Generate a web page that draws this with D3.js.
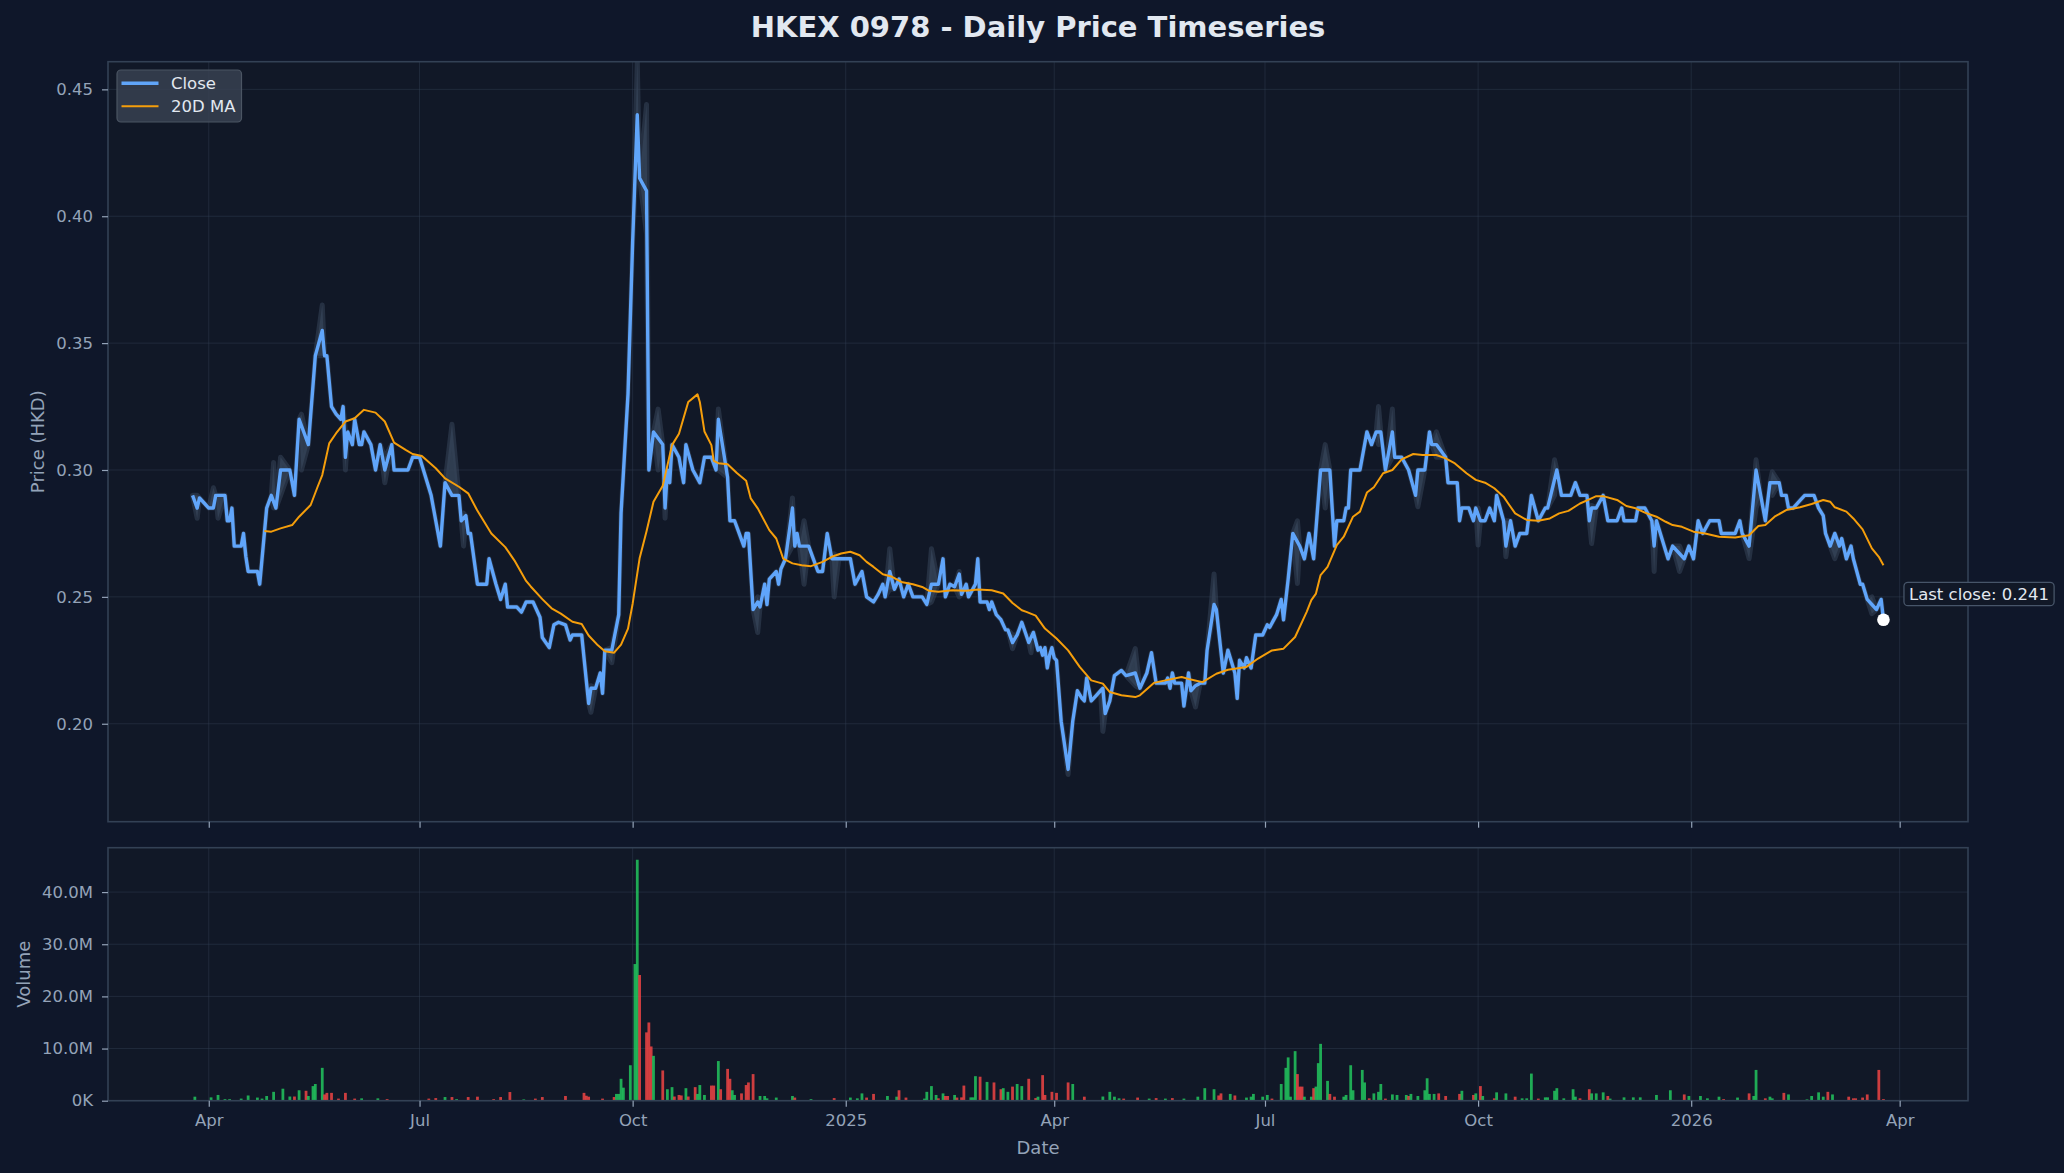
<!DOCTYPE html>
<html><head><meta charset="utf-8">
<script src="https://cdn.jsdelivr.net/npm/d3@7"></script>
<style>
html,body{margin:0;padding:0;background:#0f172a;}
svg{display:block;font-family:"DejaVu Sans",sans-serif;}
</style></head><body>
<svg id="chart" width="2064" height="1173"></svg>
<script>
// ---- DATA (days are offsets from startDate) ----
const startDate = "2024-04-01";
const chartTitle = "HKEX 0978 - Daily Price Timeseries";
// [day, close]
const closeSeries = [
[-7,.290],[-5,.285],[-4,.289],[-2,.287],[0,.285],[2,.285],[3,.290],[7,.290],[8,.280],[9,.280],
[10,.285],[11,.270],[14,.270],[15,.275],[16,.266],[17,.260],[21,.260],[22,.255],[25,.285],[27,.290],
[29,.285],[31,.300],[35,.300],[37,.290],[39,.320],[43,.310],[46,.345],[49,.355],[50,.345],[51,.345],
[53,.325],[55,.322],[57,.320],[58,.325],[59,.305],[60,.315],[62,.310],[63,.320],[65,.310],[66,.310],
[67,.315],[70,.310],[72,.300],[74,.310],[76,.300],[79,.310],[80,.300],[86,.300],[88,.305],[91,.305],
[96,.290],[100,.270],[102,.295],[105,.290],[108,.290],[109,.280],[111,.282],[112,.275],[113,.275],[116,.255],
[120,.255],[121,.265],[124,.255],[126,.249],[128,.255],[129,.246],[133,.246],[135,.244],[137,.248],[140,.248],
[143,.242],[144,.234],[147,.230],[149,.239],[151,.240],[154,.239],[156,.233],[157,.235],[161,.235],[164,.208],
[165,.214],[167,.214],[169,.220],[170,.212],[171,.229],[174,.229],[177,.243],[178,.283],[181,.330],[183,.390],
[185,.440],[186,.415],[189,.410],[190,.300],[192,.315],[196,.310],[197,.285],[198,.300],[199,.295],[200,.310],
[203,.305],[205,.295],[206,.310],[209,.300],[212,.295],[214,.305],[217,.305],[219,.300],[220,.320],[224,.297],
[225,.280],[227,.280],[229,.275],[231,.270],[232,.275],[233,.275],[235,.245],[237,.248],[238,.246],[240,.255],
[241,.247],[242,.257],[245,.260],[246,.255],[247,.261],[249,.265],[252,.285],[253,.270],[254,.275],[255,.270],
[259,.270],[261,.265],[263,.260],[265,.260],[267,.275],[269,.265],[272,.265],[277,.265],[279,.255],[282,.260],
[284,.250],[287,.248],[289,.251],[291,.255],[292,.250],[294,.260],[296,.253],[298,.257],[300,.250],[302,.255],
[304,.250],[308,.250],[310,.247],[312,.255],[315,.255],[317,.265],[318,.250],[320,.255],[322,.254],[324,.259],
[325,.251],[327,.255],[328,.250],[331,.255],[332,.265],[333,.248],[336,.248],[337,.245],[338,.248],[340,.243],
[342,.241],[344,.237],[345,.237],[347,.232],[349,.235],[351,.240],[354,.232],[356,.236],[358,.229],[359,.230],
[360,.227],[361,.230],[362,.222],[363,.227],[364,.230],[365,.226],[366,.225],[368,.201],[371,.182],[373,.201],
[375,.213],[377,.210],[378,.209],[379,.218],[381,.209],[383,.211],[385,.213],[386,.214],[387,.204],[389,.209],
[391,.219],[394,.221],[396,.219],[400,.220],[402,.214],[405,.220],[407,.228],[409,.216],[413,.216],[414,.218],
[415,.214],[416,.220],[417,.216],[420,.216],[421,.207],[423,.220],[424,.213],[426,.215],[428,.216],[430,.216],
[431,.229],[434,.247],[435,.245],[438,.220],[440,.229],[443,.220],[444,.210],[445,.225],[447,.222],[448,.226],
[450,.222],[452,.235],[455,.235],[457,.239],[458,.238],[461,.243],[463,.249],[464,.241],[466,.257],[468,.275],
[471,.270],[473,.265],[474,.270],[475,.275],[477,.265],[480,.300],[484,.300],[486,.270],[487,.280],[490,.280],
[491,.285],[492,.285],[493,.300],[497,.300],[500,.315],[502,.310],[504,.315],[506,.315],[508,.300],[511,.315],
[512,.305],[515,.305],[518,.300],[521,.290],[522,.300],[525,.300],[527,.315],[528,.310],[530,.310],[534,.305],
[535,.295],[539,.295],[540,.280],[541,.285],[544,.285],[546,.280],[547,.285],[549,.280],[551,.280],[553,.285],
[555,.280],[556,.290],[559,.280],[560,.270],[562,.280],[564,.270],[566,.275],[569,.275],[571,.290],[574,.280],
[577,.285],[578,.285],[582,.300],[584,.290],[588,.290],[590,.295],[592,.290],[595,.290],[596,.280],[597,.285],
[599,.285],[602,.290],[604,.280],[608,.280],[610,.285],[611,.280],[616,.280],[617,.285],[620,.285],[623,.280],
[624,.270],[625,.280],[630,.265],[632,.270],[635,.267],[637,.265],[639,.270],[641,.265],[643,.280],[645,.275],
[648,.280],[652,.280],[653,.275],[659,.275],[661,.280],[662,.275],[665,.270],[668,.300],[670,.290],[672,.280],
[674,.295],[678,.295],[679,.290],[681,.290],[682,.285],[684,.285],[687,.288],[689,.290],[693,.290],[695,.285],
[697,.282],[698,.275],[700,.270],[702,.275],[704,.270],[705,.273],[707,.265],[709,.270],[710,.265],[713,.255],
[714,.255],[716,.249],[718,.247],[720,.245],[722,.249],[723,.241]
];
// [day, 20-day moving average]
const ma20Series = [
[24,.2760],[27,.2757],[31,.2770],[36,.2783],[39,.2816],[44,.2862],[47,.2934],[49,.2980],[52,.3105],[55,.3145],
[59,.3191],[63,.3204],[67,.3237],[72,.3226],[76,.3191],[80,.3108],[85,.3079],[88,.3063],[92,.3055],[98,.3007],
[102,.2967],[108,.2934],[112,.2908],[116,.2839],[122,.2750],[128,.2696],[132,.2643],[137,.2563],[139,.2541],[144,.2491],
[148,.2455],[152,.2434],[157,.2402],[161,.2393],[164,.2348],[168,.2309],[171,.2286],[175,.2280],[178,.2312],[181,.2375],
[183,.2473],[186,.2652],[189,.2759],[192,.2875],[196,.2938],[200,.3098],[203,.3143],[207,.3268],[211,.3298],[212,.3268],
[214,.3152],[217,.3098],[218,.3036],[220,.3027],[224,.3023],[228,.2988],[232,.2958],[234,.2888],[237,.2849],[242,.2763],
[245,.2730],[248,.2651],[252,.2632],[256,.2625],[260,.2621],[265,.2638],[269,.2658],[273,.2671],[277,.2678],[281,.2664],
[284,.2638],[287,.2618],[291,.2589],[295,.2579],[299,.2559],[304,.2550],[308,.2539],[311,.2524],[315,.2520],[321,.2526],
[327,.2524],[332,.2529],[338,.2526],[343,.2513],[347,.2476],[351,.2447],[353,.2441],[357,.2426],[361,.2375],[366,.2336],
[371,.2289],[376,.2224],[381,.2171],[386,.2158],[389,.2125],[394,.2112],[400,.2105],[402,.2112],[408,.2161],[413,.2171],
[420,.2184],[424,.2174],[429,.2164],[435,.2197],[440,.2213],[448,.2224],[453,.2257],[459,.2289],[464,.2296],[469,.2342],
[474,.2441],[476,.2487],[478,.2513],[480,.2586],[483,.2618],[487,.2704],[490,.2737],[494,.2816],[497,.2836],[500,.2911],
[503,.2932],[507,.2987],[511,.3000],[515,.3042],[520,.3063],[524,.3059],[530,.3059],[534,.3046],[538,.3026],[543,.2987],
[547,.2961],[551,.2950],[555,.2928],[559,.2895],[561,.2868],[564,.2829],[569,.2803],[574,.2800],[579,.2809],[583,.2829],
[587,.2839],[592,.2868],[596,.2884],[599,.2897],[602,.2897],[608,.2882],[612,.2858],[616,.2849],[620,.2832],[625,.2816],
[629,.2796],[632,.2783],[636,.2776],[641,.2757],[646,.2750],[652,.2737],[659,.2734],[665,.2743],[669,.2779],[672,.2783],
[676,.2816],[681,.2842],[687,.2853],[692,.2866],[697,.2882],[700,.2875],[702,.2853],[707,.2836],[710,.2809],[714,.2766],
[718,.2691],[721,.2658],[723,.2625]
];
// [day, high, low] where the daily range shows beyond the close line
const rangeSeries = [
[-5,.290,.281],[2,.293,.285],[4,.290,.281],[28,.303,.285],[31,.305,.290],[40,.322,.300],[49,.365,.345],[59,.315,.300],[76,.305,.295],[105,.318,.290],
[110,.283,.270],[165,.215,.2045],[174,.230,.224],[185,.461,.430],[189,.444,.393],[194,.324,.300],[197,.290,.281],[220,.324,.300],[237,.250,.236],[252,.289,.270],
[257,.280,.255],[270,.267,.250],[294,.269,.253],[312,.269,.248],[324,.260,.250],[347,.235,.2296],[355,.235,.228],[371,.185,.180],[386,.214,.197],[400,.2296,.215],
[426,.216,.2066],[434,.259,.245],[470,.280,.2553],[482,.310,.285],[505,.325,.310],[511,.324,.305],[522,.300,.2855],[530,.315,.305],[548,.285,.2704],[560,.280,.2658],
[581,.304,.290],[597,.286,.271],[624,.280,.260],[635,.270,.260],[665,.270,.2651],[668,.304,.285],[675,.2993,.290],[702,.275,.2651],[718,.250,.2434]
];
// [day, volume in millions, direction (1 up / -1 down)]
const volumeSeries = [
[-6,.77,1],[1,.64,1],[4,1.1,1],[7,.3,1],[9,.3,1],[14,.4,1],[17,1.0,1],[21,.6,1],[23,.4,1],[25,.9,1],
[28,1.7,1],[32,2.3,1],[35,.8,1],[37,.8,-1],[39,2.0,1],[42,1.9,-1],[43,.9,1],[45,2.8,1],[46,3.2,1],[49,6.3,1],
[50,1.2,-1],[51,1.5,-1],[53,1.5,-1],[56,.4,-1],[59,1.5,-1],[63,.4,-1],[66,.45,1],[73,.45,1],[77,.3,-1],[95,.4,-1],
[98,.5,-1],[102,.7,1],[105,.7,-1],[107,.3,1],[112,.7,-1],[116,.77,-1],[123,.3,-1],[126,.7,-1],[130,1.66,-1],[136,.25,1],
[141,.4,-1],[144,.7,-1],[154,.9,-1],[162,1.5,-1],[163,.95,-1],[164,.77,-1],[170,.4,-1],[175,.7,-1],[176,1.3,1],[177,1.3,1],
[178,4.2,1],[179,2.5,1],[182,6.8,1],[184,26.2,1],[185,46.2,1],[186,24.1,-1],[189,13.1,-1],[190,15.0,-1],[191,10.4,-1],[192,8.6,1],
[196,5.8,-1],[198,2.2,1],[200,2.6,1],[201,.8,-1],[203,1.1,-1],[204,1.0,-1],[206,2.4,1],[207,.8,-1],[210,2.6,-1],[211,1.3,1],
[212,3.0,1],[214,1.1,1],[217,2.9,-1],[218,2.9,-1],[220,7.6,1],[221,2.2,-1],[224,6.1,-1],[225,4.2,-1],[226,2.0,1],[227,1.1,1],
[230,1.4,-1],[232,3.0,-1],[233,3.5,-1],[235,5.1,-1],[238,.9,1],[240,.9,1],[241,.45,1],[245,.6,1],[252,.9,1],[253,.6,-1],
[260,.3,1],[270,.5,-1],[277,.6,1],[280,.45,1],[282,1.4,1],[284,.6,-1],[287,1.3,-1],[293,.9,1],[297,.77,1],[298,2.0,-1],
[301,.6,-1],[309,.4,1],[310,1.7,1],[312,2.8,1],[314,1.1,1],[315,.45,-1],[317,1.4,1],[318,.9,-1],[319,.9,-1],[322,1.1,1],
[323,.6,-1],[325,.64,-1],[326,2.9,-1],[329,.64,1],[330,.64,1],[331,4.7,1],[333,4.6,-1],[336,3.6,1],[339,3.5,-1],[342,2.2,-1],
[343,2.4,1],[345,1.7,1],[347,2.7,-1],[349,3.2,1],[351,2.8,1],[354,4.2,-1],[357,.5,-1],[358,.77,1],[360,4.9,-1],[361,1.1,-1],
[364,1.7,-1],[366,1.5,-1],[371,3.5,-1],[373,3.2,1],[378,.77,-1],[386,.8,1],[389,1.7,1],[391,.77,1],[393,.45,1],[395,.4,-1],
[401,.6,-1],[406,.4,1],[409,.5,-1],[413,.4,1],[416,.5,-1],[421,.4,1],[427,.77,1],[430,2.4,1],[434,2.2,1],[436,1.0,-1],
[437,1.4,-1],[441,1.3,1],[443,1.0,-1],[448,.6,1],[450,.77,1],[451,1.3,1],[455,.77,1],[457,1.1,1],[459,.4,-1],[463,3.2,1],
[465,6.3,1],[466,8.3,1],[467,.77,1],[469,9.5,1],[470,5.1,-1],[471,2.7,-1],[472,2.7,-1],[473,.77,1],[476,.77,1],[477,2.4,-1],
[478,2.7,1],[479,7.2,1],[480,10.9,1],[483,3.8,1],[484,1.3,-1],[486,.77,-1],[490,.77,1],[491,1.1,1],[493,6.8,1],[494,2.0,1],
[498,5.9,1],[499,3.5,1],[501,.45,-1],[503,1.4,1],[505,1.7,1],[506,3.2,1],[508,.4,-1],[511,1.2,1],[513,1.1,1],[517,1.1,1],
[518,.9,-1],[519,1.3,1],[522,.9,1],[525,2.0,1],[526,4.3,1],[527,1.3,1],[529,1.3,1],[531,1.4,-1],[534,.9,-1],[540,1.3,-1],
[541,1.9,1],[546,1.1,-1],[547,1.4,1],[549,2.8,-1],[550,.9,1],[555,.45,-1],[556,1.6,1],[560,1.4,1],[564,.77,-1],[567,.45,1],
[569,.45,1],[571,5.2,1],[574,.4,-1],[577,.64,1],[578,.64,1],[581,1.9,1],[582,2.4,1],[585,.45,1],[589,2.2,1],[590,.77,1],
[592,.45,-1],[596,2.2,-1],[597,1.4,1],[599,1.4,1],[602,1.6,1],[604,.9,-1],[605,.4,1],[611,.64,1],[615,.64,1],[618,.64,1],
[625,1.1,1],[631,2.0,1],[637,1.2,-1],[639,.9,1],[644,.9,1],[647,.45,1],[652,.77,1],[654,.3,-1],[660,.6,1],[665,1.4,-1],
[667,.9,1],[668,5.9,1],[672,.45,-1],[674,.77,1],[675,.45,1],[680,1.5,-1],[682,1.2,1],[690,.25,1],[692,.9,1],[695,1.6,1],
[697,.77,1],[699,1.7,-1],[701,1.2,1],[708,.77,-1],[710,.45,-1],[711,.45,-1],[714,.6,-1],[716,1.2,-1],[721,5.9,-1],[723,.3,-1]
];
const priceDomain = [0.1614, 0.4609];
const priceTicks = [0.20, 0.25, 0.30, 0.35, 0.40, 0.45];
const volumeTicks = [0, 10, 20, 30, 40];
const dateTicks = ["2024-04-01","2024-07-01","2024-10-01","2025-01-01","2025-04-01","2025-07-01","2025-10-01","2026-01-01","2026-04-01"];
const dateTickLabels = ["Apr","Jul","Oct","2025","Apr","Jul","Oct","2026","Apr"];
const legendLabels = ["Close","20D MA"];

// ---- LAYOUT / STYLE ----
const L = 108, R = 1968, PT = 61.7, PB = 821.7, VT = 847.7, VB = 1100.7;
const C = {fig:"#0f172a", ax:"#111827", spine:"#334155", grid:"#334155", tick:"#94a3b8",
  text:"#e2e8f0", close:"#60a5fa", ma:"#f59e0b", band:"#334155", up:"#22c55e", down:"#ef4444"};
const FONT = "DejaVu Sans";

const base = new Date(startDate + "T00:00:00Z").getTime();
const toDate = d => new Date(base + d * 864e5);

const svg = d3.select("#chart");
svg.append("rect").attr("width", 2064).attr("height", 1173).attr("fill", C.fig);

const days = closeSeries.map(d => d[0]);
const dMin = d3.min(days), dMax = d3.max(days), pad = (dMax - dMin) * 0.05;
const x = d3.scaleUtc().domain([toDate(dMin - pad), toDate(dMax + pad)]).range([L, R]);
const y = d3.scaleLinear().domain(priceDomain).range([PB, PT]);
const yv = d3.scaleLinear().domain([0, d3.max(volumeSeries, d => d[1]) * 1.05]).range([VB, VT]);
const tickDates = dateTicks.map(s => new Date(s + "T00:00:00Z"));

// panels
[[PT, PB, "clipP"], [VT, VB, "clipV"]].forEach(([t, b, id]) => {
  svg.append("rect").attr("x", L).attr("y", t).attr("width", R - L).attr("height", b - t).attr("fill", C.ax);
  svg.append("clipPath").attr("id", id).append("rect").attr("x", L).attr("y", t).attr("width", R - L).attr("height", b - t);
});

// grids
const grid = svg.append("g").attr("stroke", C.grid).attr("stroke-opacity", 0.45).attr("stroke-width", 1);
priceTicks.forEach(v => grid.append("line").attr("x1", L).attr("x2", R).attr("y1", y(v)).attr("y2", y(v)));
volumeTicks.forEach(v => grid.append("line").attr("x1", L).attr("x2", R).attr("y1", yv(v)).attr("y2", yv(v)));
tickDates.forEach(dt => {
  grid.append("line").attr("x1", x(dt)).attr("x2", x(dt)).attr("y1", PT).attr("y2", PB);
  grid.append("line").attr("x1", x(dt)).attr("x2", x(dt)).attr("y1", VT).attr("y2", VB);
});

// range band (close path merged with visible high/low ranges)
const closeMap = new Map(closeSeries.map(d => [d[0], d[1]]));
const bandMap = new Map(closeSeries.map(d => [d[0], {day: d[0], hi: d[1], lo: d[1]}]));
rangeSeries.forEach(([d, hi, lo]) => {
  const c = closeMap.get(d);
  if (c !== undefined) bandMap.set(d, {day: d, hi: Math.max(hi, c), lo: Math.min(lo, c)});
  else bandMap.set(d, {day: d, hi, lo});
});
const bandPts = Array.from(bandMap.values()).sort((a, b) => a.day - b.day);
const gP = svg.append("g").attr("clip-path", "url(#clipP)");
gP.append("path").datum(bandPts)
  .attr("d", d3.area().x(d => x(toDate(d.day))).y0(d => y(d.lo)).y1(d => y(d.hi)))
  .attr("fill", C.band).attr("fill-opacity", 0.9)
  .attr("stroke", C.band).attr("stroke-opacity", 0.6).attr("stroke-width", 5).attr("stroke-linejoin", "round");

gP.append("path").datum(closeSeries)
  .attr("d", d3.line().x(d => x(toDate(d[0]))).y(d => y(d[1])))
  .attr("fill", "none").attr("stroke", C.close).attr("stroke-width", 3.4).attr("stroke-linejoin", "round");
gP.append("path").datum(ma20Series)
  .attr("d", d3.line().x(d => x(toDate(d[0]))).y(d => y(d[1])))
  .attr("fill", "none").attr("stroke", C.ma).attr("stroke-width", 2).attr("stroke-linejoin", "round");

// volume bars
const gV = svg.append("g").attr("clip-path", "url(#clipV)");
gV.selectAll("rect").data(volumeSeries).join("rect")
  .attr("x", d => x(toDate(d[0] - 0.6)))
  .attr("width", d => x(toDate(d[0] + 0.6)) - x(toDate(d[0] - 0.6)))
  .attr("y", d => yv(d[1]))
  .attr("height", d => yv(0) - yv(d[1]))
  .attr("fill", d => d[2] > 0 ? C.up : C.down)
  .attr("fill-opacity", 0.85);

// spines
[[PT, PB], [VT, VB]].forEach(([t, b]) => {
  svg.append("rect").attr("x", L).attr("y", t).attr("width", R - L).attr("height", b - t)
    .attr("fill", "none").attr("stroke", C.spine).attr("stroke-width", 1.6);
});

// axes
function styleAxis(g) {
  g.select(".domain").remove();
  g.selectAll(".tick line").attr("stroke", C.tick).attr("stroke-width", 1.2);
  g.selectAll(".tick text").attr("fill", C.tick).attr("font-size", 16.5).attr("font-family", FONT);
}
svg.append("g").attr("transform", `translate(${L},0)`)
  .call(d3.axisLeft(y).tickValues(priceTicks).tickFormat(d3.format(".2f")).tickSize(6).tickPadding(9))
  .call(styleAxis);
svg.append("g").attr("transform", `translate(${L},0)`)
  .call(d3.axisLeft(yv).tickValues(volumeTicks).tickFormat(v => v === 0 ? "0K" : v.toFixed(1) + "M").tickSize(6).tickPadding(9))
  .call(styleAxis);
svg.append("g").attr("transform", `translate(0,${PB})`)
  .call(d3.axisBottom(x).tickValues(tickDates).tickFormat(() => "").tickSize(6))
  .call(styleAxis);
svg.append("g").attr("transform", `translate(0,${VB})`)
  .call(d3.axisBottom(x).tickValues(tickDates).tickFormat((d, i) => dateTickLabels[i]).tickSize(6).tickPadding(8))
  .call(styleAxis);

// titles / labels
svg.append("text").attr("x", 1038).attr("y", 36.5).attr("text-anchor", "middle")
  .attr("font-family", FONT).attr("font-weight", "bold").attr("font-size", 29).attr("fill", C.text).text(chartTitle);
svg.append("text").attr("transform", `translate(37,${(PT + PB) / 2}) rotate(-90)`).attr("text-anchor", "middle")
  .attr("dominant-baseline", "central").attr("font-family", FONT).attr("font-size", 18).attr("fill", C.tick).text("Price (HKD)");
svg.append("text").attr("transform", `translate(23.5,${(VT + VB) / 2}) rotate(-90)`).attr("text-anchor", "middle")
  .attr("dominant-baseline", "central").attr("font-family", FONT).attr("font-size", 18).attr("fill", C.tick).text("Volume");
svg.append("text").attr("x", (L + R) / 2).attr("y", 1154).attr("text-anchor", "middle")
  .attr("font-family", FONT).attr("font-size", 18).attr("fill", C.tick).text("Date");

// legend
const lg = svg.append("g");
lg.append("rect").attr("x", 117).attr("y", 70).attr("width", 124.5).attr("height", 52).attr("rx", 4)
  .attr("fill", "#374151").attr("fill-opacity", 0.85).attr("stroke", "#4b5563").attr("stroke-width", 1.2);
[[C.close, 3.4, 83.3], [C.ma, 2, 106.3]].forEach(([col, w, ly], i) => {
  lg.append("line").attr("x1", 121.5).attr("x2", 158.5).attr("y1", ly).attr("y2", ly).attr("stroke", col).attr("stroke-width", w);
  lg.append("text").attr("x", 171).attr("y", ly).attr("dominant-baseline", "central")
    .attr("font-family", FONT).attr("font-size", 16.5).attr("fill", C.text).text(legendLabels[i]);
});

// last close marker & annotation
const last = closeSeries[closeSeries.length - 1];
const lx = x(toDate(last[0])), ly = y(last[1]);
svg.append("circle").attr("cx", lx).attr("cy", ly).attr("r", 6.3).attr("fill", "#ffffff");
const ann = svg.append("g");
const annText = ann.append("text").attr("x", lx + 25.5).attr("y", ly - 25.5).attr("dominant-baseline", "central")
  .attr("font-family", FONT).attr("font-size", 16.5).attr("fill", C.text).text("Last close: " + last[1].toFixed(3));
const bb = annText.node().getBBox();
ann.insert("rect", "text").attr("x", bb.x - 5).attr("y", ly - 37.3).attr("width", bb.width + 10).attr("height", 23.3).attr("rx", 4)
  .attr("fill", C.ax).attr("stroke", "#475569").attr("stroke-width", 1.3);
</script>
</body></html>
